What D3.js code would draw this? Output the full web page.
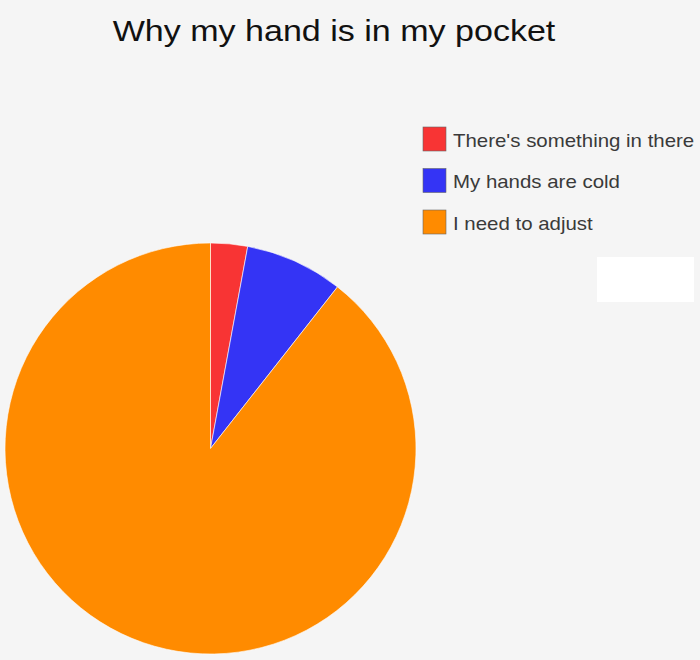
<!DOCTYPE html>
<html>
<head>
<meta charset="utf-8">
<script src="https://cdn.jsdelivr.net/npm/d3@7"></script>
<style>
  body { margin: 0; background: #f5f5f5; }
  svg { display: block; font-family: "Liberation Sans", Arial, sans-serif; }
</style>
</head>
<body>
<svg></svg>
<script>
let width = 700, height = 660;

// chart data
let labels = ["There's something in there", "My hands are cold", "I need to adjust"];
let values = [2.9, 7.7, 89.4];
let colors = ["#f83434", "#3434f5", "#ff8b00"];

// the picture is a little stretched sideways
let stretch = 1.135;

let svg = d3.select("svg")
    .attr("width", width)
    .attr("height", height);

svg.append("rect")
    .attr("width", width)
    .attr("height", height)
    .attr("fill", "#f5f5f5");

// title
svg.append("text")
    .attr("transform", "translate(334,40.7) scale(" + stretch + ",1)")
    .attr("text-anchor", "middle")
    .attr("font-size", 30)
    .attr("fill", "#111")
    .text("Why my hand is in my pocket");

let color = d3.scaleOrdinal().domain(labels).range(colors);

let pie = d3.pie().sort(null).value(d => d.value);
let arc = d3.arc().innerRadius(0).outerRadius(205.5);

let slices = labels.map((l, i) => ({label: l, value: values[i]}));

let g = svg.append("g")
    .attr("transform", "translate(210.5,448.5)");

g.selectAll("path")
    .data(pie(slices))
    .enter()
    .append("path")
    .attr("d", arc)
    .attr("fill", d => color(d.data.label))
    .attr("stroke", "#fff")
    .attr("stroke-width", 0.6);

// legend
let legend = svg.append("g")
    .selectAll("g")
    .data(labels)
    .enter()
    .append("g")
    .attr("transform", (d, i) => "translate(423," + (127 + i * 41.5) + ")");

legend.append("rect")
    .attr("width", 23)
    .attr("height", 24)
    .attr("fill", d => color(d))
    .attr("stroke", "#666")
    .attr("stroke-width", 0.6);

legend.append("text")
    .attr("transform", "translate(30,19.7) scale(" + stretch + ",1)")
    .attr("font-size", 18)
    .attr("fill", "#3a3a3a")
    .text(d => d);

// blank white box to the right
svg.append("rect")
    .attr("x", 597)
    .attr("y", 257)
    .attr("width", 97)
    .attr("height", 45)
    .attr("fill", "#fff");
</script>
</body>
</html>
